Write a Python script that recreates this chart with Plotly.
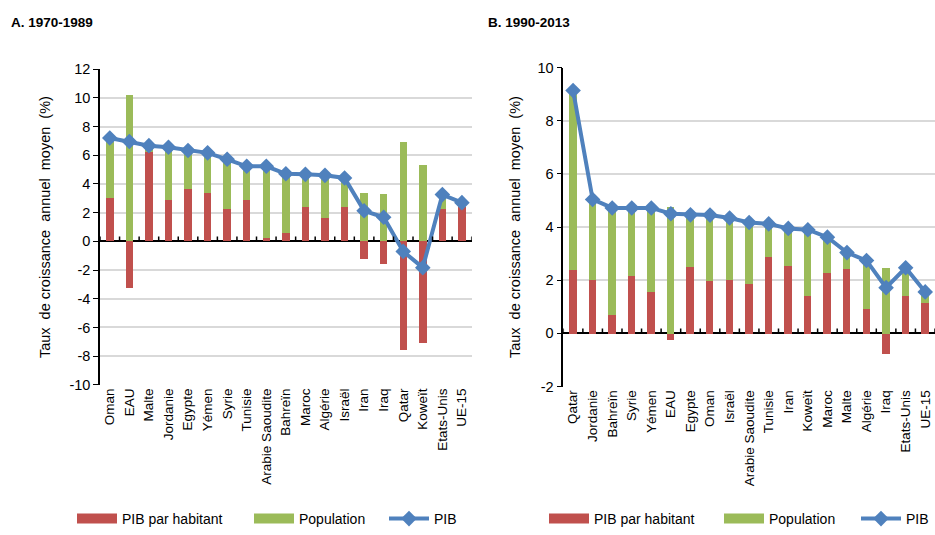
import plotly.graph_objects as go

# ---------------- data ----------------
cats_a = ["Oman", "EAU", "Malte", "Jordanie", "Egypte", "Yémen", "Syrie", "Tunisie",
          "Arabie Saoudite", "Bahreïn", "Maroc", "Algérie", "Israël", "Iran", "Iraq",
          "Qatar", "Koweït", "Etats-Unis", "UE-15"]
pib_hab_a = [3.0, -3.25, 6.2, 2.85, 3.65, 3.37, 2.25, 2.85, 0.23, 0.54, 2.36, 1.64, 2.36,
             -1.23, -1.57, -7.6, -7.1, 2.25, 2.36]
pop_a = [4.2, 10.2, 0.45, 3.7, 2.68, 2.8, 3.47, 2.38, 5.0, 4.17, 2.31, 2.96, 2.06,
         3.37, 3.26, 6.9, 5.28, 1.01, 0.34]
pib_a = [7.2, 6.96, 6.67, 6.56, 6.33, 6.17, 5.72, 5.23, 5.23, 4.71, 4.67, 4.6, 4.42,
         2.13, 1.68, -0.7, -1.83, 3.26, 2.7]

cats_b = ["Qatar", "Jordanie", "Bahreïn", "Syrie", "Yémen", "EAU", "Egypte", "Oman",
          "Israël", "Arabie Saoudite", "Tunisie", "Iran", "Koweït", "Maroc", "Malte",
          "Algérie", "Iraq", "Etats-Unis", "UE-15"]
pib_hab_b = [2.4, 2.01, 0.70, 2.18, 1.57, -0.25, 2.5, 1.97, 2.01, 1.89, 2.88, 2.56, 1.43,
             2.29, 2.45, 0.92, -0.75, 1.43, 1.14]
pop_b = [6.74, 3.03, 4.02, 2.54, 3.15, 4.76, 1.96, 2.48, 2.33, 2.28, 1.24, 1.39, 2.47,
         1.33, 0.59, 1.82, 2.46, 1.04, 0.42]
pib_b = [9.14, 5.04, 4.72, 4.72, 4.72, 4.5, 4.46, 4.45, 4.34, 4.17, 4.12, 3.95, 3.9,
         3.62, 3.04, 2.74, 1.72, 2.47, 1.56]

ytick_a = [12, 10, 8, 6, 4, 2, 0, -2, -4, -6, -8, -10]
ytick_b = [10, 8, 6, 4, 2, 0, -2]

RED = "#C0504D"
GREEN = "#9BBB59"
BLUE = "#4F81BD"
FONT = "Liberation Sans, Arial, sans-serif"

fig = go.Figure()

def add_panel(cats, red, green, line, xa, ya, legs):
    fig.add_trace(go.Bar(x=cats, y=red, name="PIB par habitant", marker_color=RED,
                         marker_line_width=0, width=0.38, xaxis=xa, yaxis=ya,
                         showlegend=False))
    fig.add_trace(go.Bar(x=cats, y=green, name="Population", marker_color=GREEN,
                         marker_line_width=0, width=0.38, xaxis=xa, yaxis=ya,
                         showlegend=False))
    fig.add_trace(go.Scatter(x=cats, y=line, name="PIB", mode="lines+markers",
                             line=dict(color=BLUE, width=4),
                             marker=dict(symbol="diamond", size=12, color=BLUE),
                             xaxis=xa, yaxis=ya, legend=legs[2]))
    # legend swatches for the bar series (wide rectangles as in the original)
    for nm, col, lg in [("PIB par habitant", RED, legs[0]), ("Population", GREEN, legs[1])]:
        fig.add_trace(go.Scatter(x=[None], y=[None], name=nm, mode="lines",
                                 line=dict(color=col, width=10), xaxis=xa, yaxis=ya,
                                 legend=lg))

add_panel(cats_a, pib_hab_a, pop_a, pib_a, "x", "y", ["legend", "legend3", "legend4"])
add_panel(cats_b, pib_hab_b, pop_b, pib_b, "x2", "y2", ["legend2", "legend5", "legend6"])

dom_a_y = [1 - 390 / 535, 1 - 63.3 / 535]
dom_b_y = [1 - 391.7 / 535, 1 - 61.7 / 535]

xcommon = dict(type="category", showgrid=False, showline=False, ticks="", zeroline=False,
               tickangle=-90, tickfont=dict(family=FONT, size=13.5, color="black"))
ycommon = dict(showline=True, linecolor="black", linewidth=1.5, ticks="outside", ticklen=5,
               tickcolor="black", showgrid=True, gridcolor="#d9d9d9", gridwidth=1.5,
               zeroline=True, zerolinecolor="black", zerolinewidth=1.5,
               tickfont=dict(family=FONT, size=14.5, color="black"))

legfont = dict(family=FONT, size=14, color="black")
def leg(xpx):
    return dict(orientation="h", x=xpx / 935, xanchor="left", y=6 / 535, yanchor="middle",
                font=legfont, itemwidth=40, bgcolor="rgba(0,0,0,0)")

fig.update_layout(
    width=935, height=535, margin=dict(l=0, r=0, t=0, b=0),
    paper_bgcolor="white", plot_bgcolor="white",
    barmode="relative", bargap=0, showlegend=True,
    xaxis=dict(domain=[100 / 935, 471.7 / 935], anchor="y", range=[-0.5, 18.5], **xcommon),
    yaxis=dict(domain=dom_a_y, anchor="x", range=[-10, 12], tickvals=ytick_a,
               ticktext=[str(v) for v in ytick_a], **ycommon),
    xaxis2=dict(domain=[563.3 / 935, 935 / 935], anchor="y2", range=[-0.5, 18.5], **xcommon),
    yaxis2=dict(domain=dom_b_y, anchor="x2", range=[-2, 10], tickvals=ytick_b,
                ticktext=[str(v) for v in ytick_b], **ycommon),
    legend=leg(72), legend3=leg(249), legend4=leg(384),
    legend2=leg(544), legend5=leg(719), legend6=leg(856),
    hovermode=False,
)

# tick marks on the zero line at category boundaries
shapes = []
for xref, yref, n, h in [("x", "y", len(cats_a), 0.34), ("x2", "y2", len(cats_b), 0.18)]:
    for i in range(n + 1):
        shapes.append(dict(type="line", xref=xref, yref=yref, x0=i - 0.5, x1=i - 0.5,
                           y0=0, y1=h, line=dict(color="black", width=1.5), layer="above"))
fig.update_layout(shapes=shapes)

ytitle = "Taux  de croissance  annuel  moyen  (%)".replace("  ", "\u00a0 ")
for xp in (45, 515):
    fig.add_annotation(text=ytitle, textangle=-90, xref="paper", yref="paper",
                       x=xp / 935, y=1 - 226.7 / 535, xanchor="center", yanchor="middle",
                       showarrow=False, font=dict(family=FONT, size=14.5, color="black"))
fig.add_annotation(text="<b>A. 1970-1989</b>", xref="paper", yref="paper",
                   x=9 / 935, y=1 - 15 / 535, xanchor="left", yanchor="middle",
                   showarrow=False, font=dict(family=FONT, size=13.5, color="black"))
fig.add_annotation(text="<b>B. 1990-2013</b>", xref="paper", yref="paper",
                   x=486 / 935, y=1 - 15 / 535, xanchor="left", yanchor="middle",
                   showarrow=False, font=dict(family=FONT, size=13.5, color="black"))

fig.write_html("out.html")
